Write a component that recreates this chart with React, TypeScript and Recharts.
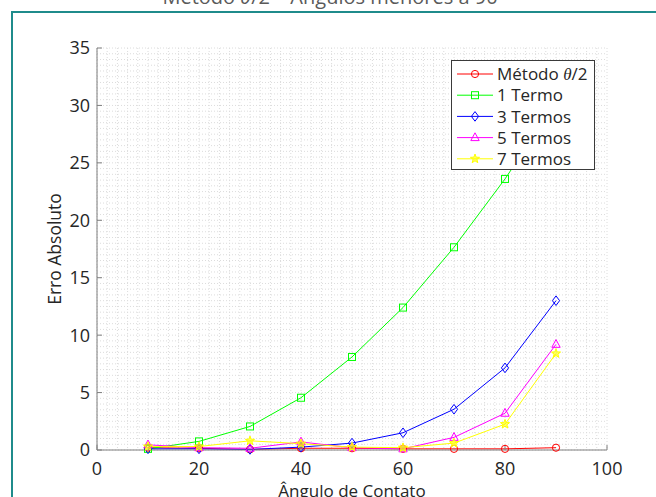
import React from 'react';
import { LineChart, Line, XAxis, YAxis, CartesianGrid, Legend } from 'recharts';

const angles = [10, 20, 30, 40, 50, 60, 70, 80, 90];
const metodoTheta = [0.2, 0.15, 0.05, 0.15, 0.15, 0.1, 0.1, 0.1, 0.2];
const termo1 = [0.1, 0.75, 2.05, 4.55, 8.1, 12.4, 17.65, 23.6, 30.2];
const termos3 = [0.1, 0.1, 0.05, 0.25, 0.6, 1.5, 3.55, 7.15, 13.0];
const termos5 = [0.45, 0.2, 0.15, 0.7, 0.2, 0.1, 1.1, 3.2, 9.2];
const termos7 = [0.3, 0.3, 0.8, 0.55, 0.25, 0.2, 0.6, 2.25, 8.4];

const xTicks = [0, 20, 40, 60, 80, 100];
const yTicks = [0, 5, 10, 15, 20, 25, 30, 35];
const xMinorStep = 2;
const yMinorStep = 0.5;

const xLabel = 'Ângulo de Contato';
const yLabel = 'Erro Absoluto';

const FONT = '"Open Sans", "Noto Sans", sans-serif';
const TEXT = '#262626';
const AXIS = '#7f7f7f';

type Shape = 'circle' | 'square' | 'diamond' | 'triangle' | 'star';

const series: { key: string; name: string; color: string; shape: Shape; values: number[] }[] = [
  { key: 'metodo', name: 'Método', color: '#ff0000', shape: 'circle', values: metodoTheta },
  { key: 't1', name: '1 Termo', color: '#00ff00', shape: 'square', values: termo1 },
  { key: 't3', name: '3 Termos', color: '#0000ff', shape: 'diamond', values: termos3 },
  { key: 't5', name: '5 Termos', color: '#ff00ff', shape: 'triangle', values: termos5 },
  { key: 't7', name: '7 Termos', color: '#ffff00', shape: 'star', values: termos7 },
];

const data = angles.map((a, i) => {
  const row: Record<string, number> = { angle: a };
  series.forEach((s) => {
    row[s.key] = s.values[i];
  });
  return row;
});

const makeRange = (max: number, step: number) => {
  const out: number[] = [];
  for (let v = 0; v <= max + 1e-9; v += step) out.push(Math.round(v * 1000) / 1000);
  return out;
};
const xMinor = makeRange(100, xMinorStep);
const yMinor = makeRange(35, yMinorStep);

function marker(shape: Shape, cx: number, cy: number, color: string, key?: string) {
  const common = { stroke: color, strokeWidth: 1, fill: 'none' };
  switch (shape) {
    case 'circle':
      return <circle key={key} cx={cx} cy={cy} r={3.6} {...common} />;
    case 'square':
      return <rect key={key} x={cx - 3.5} y={cy - 3.5} width={7} height={7} {...common} />;
    case 'diamond':
      return (
        <polygon
          key={key}
          points={`${cx},${cy - 4.8} ${cx + 3.6},${cy} ${cx},${cy + 4.8} ${cx - 3.6},${cy}`}
          {...common}
        />
      );
    case 'triangle':
      return (
        <polygon
          key={key}
          points={`${cx},${cy - 4.8} ${cx + 4.2},${cy + 3} ${cx - 4.2},${cy + 3}`}
          {...common}
        />
      );
    case 'star': {
      const pts: string[] = [];
      for (let i = 0; i < 10; i++) {
        const r = i % 2 === 0 ? 4.8 : 2;
        const ang = -Math.PI / 2 + (i * Math.PI) / 5;
        pts.push(`${cx + r * Math.cos(ang)},${cy + r * Math.sin(ang)}`);
      }
      return <polygon key={key} points={pts.join(' ')} stroke={color} strokeWidth={1} fill={color} fillOpacity={0.6} />;
    }
  }
  return null;
}

const dotRenderer = (shape: Shape, color: string) => (props: any) => {
  const { cx, cy, index } = props;
  if (cx == null || cy == null) return <g key={`d-${index}`} />;
  return marker(shape, cx, cy, color, `d-${shape}-${index}`);
};

const LegendBox = () => {
  const w = 144;
  const h = 110;
  const rowH = 21.2;
  const first = 14;
  return (
    <svg width={w} height={h} style={{ display: 'block' }}>
      <rect x={0.5} y={0.5} width={w - 1} height={h - 1} fill="#ffffff" stroke="#3a3a3a" strokeWidth={1} />
      {series.map((s, i) => {
        const y = first + i * rowH;
        return (
          <g key={s.key}>
            <line x1={6} x2={42} y1={y} y2={y} stroke={s.color} strokeWidth={1} />
            {marker(s.shape, 24, y, s.color)}
            <text x={46} y={y} dy="0.36em" fontFamily={FONT} fontSize={17} fill={TEXT}>
              {s.name}
              {s.key === 'metodo' ? (
                <>
                  {' '}
                  <tspan fontFamily='"Liberation Serif", "DejaVu Serif", serif' fontStyle="italic">θ</tspan>
                  /2
                </>
              ) : null}
            </text>
          </g>
        );
      })}
    </svg>
  );
};

export default function App() {
  return (
    <div
      style={{
        position: 'absolute',
        left: 0,
        top: 0,
        width: 656,
        height: 497,
        overflow: 'hidden',
        background: '#ffffff',
      }}
    >
      <div
        style={{
          position: 'absolute',
          left: 11,
          top: 11,
          width: 700,
          height: 600,
          border: '2px solid #1f8b8b',
          boxSizing: 'border-box',
        }}
      />
      <svg width={656} height={20} style={{ position: 'absolute', left: 0, top: 0 }}>
        <text x={330} y={4} textAnchor="middle" fontFamily={FONT} fontSize={20} fill="#5a5a5a">
          Método <tspan fontStyle="italic">θ</tspan>/2 – Ângulos menores a 90
        </text>
      </svg>
      <div style={{ position: 'absolute', left: 0, top: 0 }}>
        <LineChart
          width={656}
          height={497}
          data={data}
          margin={{ top: 48, right: 49, left: 57, bottom: 17 }}
          style={{ fontFamily: FONT }}
        >
          <CartesianGrid
            horizontalValues={yMinor}
            verticalValues={xMinor}
            stroke="#dcdcdc"
            strokeDasharray="1 2"
          />
          <XAxis
            dataKey="angle"
            type="number"
            domain={[0, 100]}
            ticks={xTicks}
            interval={0}
            height={30}
            axisLine={{ stroke: AXIS }}
            tickLine={{ stroke: AXIS }}
            tickSize={-5}
            tickMargin={17}
            tick={{ fill: TEXT, fontSize: 18, fontFamily: FONT }}
            label={{ value: xLabel, position: 'bottom', offset: 5, fill: TEXT, fontSize: 17, fontFamily: FONT }}
          />
          <XAxis
            xAxisId="top"
            orientation="top"
            dataKey="angle"
            type="number"
            domain={[0, 100]}
            ticks={xTicks}
            interval={0}
            height={0}
            axisLine={{ stroke: AXIS }}
            tickLine={{ stroke: AXIS }}
            tickSize={-5}
            tick={{ fill: 'none', fontSize: 1 }}
          />
          <YAxis
            type="number"
            domain={[0, 35]}
            ticks={yTicks}
            interval={0}
            width={40}
            axisLine={{ stroke: AXIS }}
            tickLine={{ stroke: AXIS }}
            tickSize={-5}
            tickMargin={12}
            tick={{ fill: TEXT, fontSize: 18, fontFamily: FONT }}
            label={{
              value: yLabel,
              angle: -90,
              position: 'left',
              offset: 2,
              fill: TEXT,
              fontSize: 17.5,
              fontFamily: FONT,
              style: { textAnchor: 'middle' },
            }}
          />
          <YAxis
            yAxisId="right"
            orientation="right"
            type="number"
            domain={[0, 35]}
            ticks={yTicks}
            interval={0}
            width={0}
            axisLine={{ stroke: AXIS }}
            tickLine={{ stroke: AXIS }}
            tickSize={-5}
            tick={{ fill: 'none', fontSize: 1 }}
          />
          {series.map((s) => (
            <Line
              key={s.key}
              dataKey={s.key}
              name={s.name}
              stroke={s.color}
              strokeWidth={1}
              dot={dotRenderer(s.shape, s.color)}
              activeDot={false}
              isAnimationActive={false}
            />
          ))}
          <Legend
            layout="vertical"
            align="center"
            verticalAlign="middle"
            wrapperStyle={{ left: 451, top: 60, width: 144, height: 110 }}
            content={() => <LegendBox />}
          />
        </LineChart>
      </div>
    </div>
  );
}
